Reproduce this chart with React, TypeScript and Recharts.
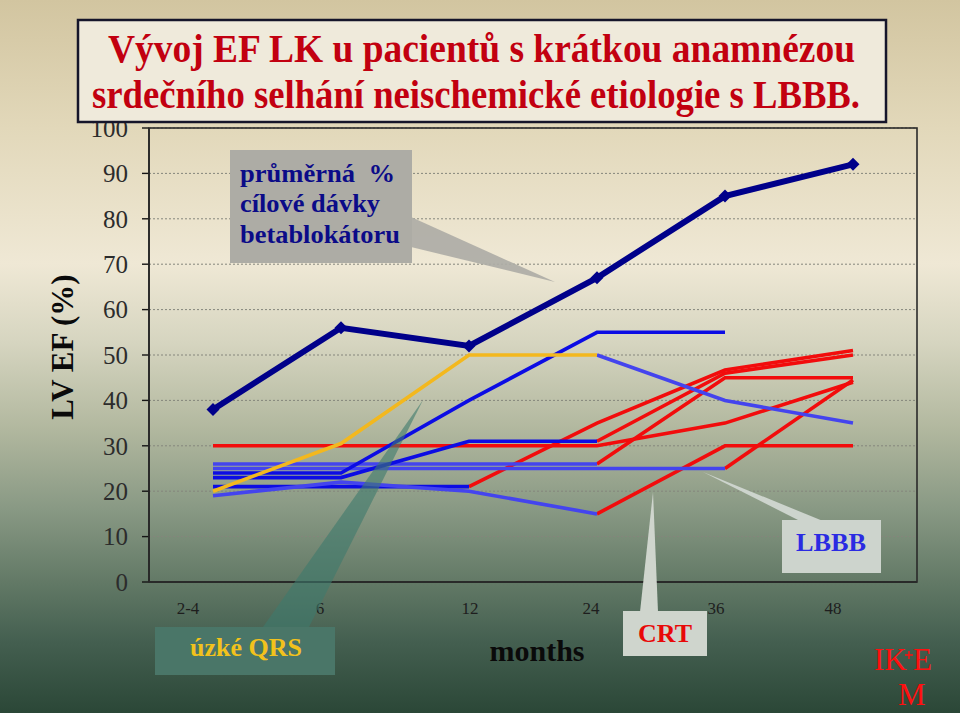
import React from 'react';
import { LineChart, Line, XAxis, YAxis, CartesianGrid } from 'recharts';

// ---------- data ----------
const MONTHS = ['2-4', '6', '12', '24', '36', '48'];
const Y_TICKS = [0, 10, 20, 30, 40, 50, 60, 70, 80, 90, 100];

// average % of target beta-blocker dose
const avgDose = [38, 56, 52, 67, 85, 92];

// individual patients' LV EF (%) segments (null = segment not present)
const p1Narrow = [20, 30.5, 50, 50, null, null];
const p1Lbbb = [null, null, null, 50, 40, 35];
const p2Lbbb = [24, 24, 40, 55, 55, null];
const p3Lbbb = [23, 23, 31, 31, null, null];
const p3Crt = [null, null, null, 31, 46, 50];
const p4Crt = [30, 30, 30, 30, 35, 44];
const p5Lbbb = [26, 26, 26, 26, null, null];
const p5Crt = [null, null, null, 26, 45, 45];
const p6Lbbb = [25, 25, 25, 25, 25, null];
const p6Crt = [null, null, null, null, 25, 44.5];
const p7Lbbb = [21, 21, 21, null, null, null];
const p7Crt = [null, null, 21, 35, 46.7, 51];
const p8Lbbb = [19, 22, 20, 15, null, null];
const p8Crt = [null, null, null, 15, 30, 30];

// ---------- style ----------
const SERIF = "'Liberation Serif', 'Times New Roman', serif";
const RED = '#f20c0c';
const BLUE = '#0c0ce4';
const LBLUE = '#4444ee';
const YELLOW = '#f3b81e';
const NAVY = '#00008a';
const TICK_DX = [-25, -21, 1, -6, -9, -20];

const SERIES = [
  { key: 'p4Crt', values: p4Crt, color: RED },
  { key: 'p3Crt', values: p3Crt, color: RED },
  { key: 'p5Crt', values: p5Crt, color: RED },
  { key: 'p6Crt', values: p6Crt, color: RED },
  { key: 'p7Crt', values: p7Crt, color: RED },
  { key: 'p8Crt', values: p8Crt, color: RED },
  { key: 'p5Lbbb', values: p5Lbbb, color: LBLUE },
  { key: 'p6Lbbb', values: p6Lbbb, color: LBLUE },
  { key: 'p2Lbbb', values: p2Lbbb, color: BLUE },
  { key: 'p3Lbbb', values: p3Lbbb, color: BLUE },
  { key: 'p7Lbbb', values: p7Lbbb, color: BLUE },
  { key: 'p8Lbbb', values: p8Lbbb, color: LBLUE },
  { key: 'p1Lbbb', values: p1Lbbb, color: LBLUE },
  { key: 'p1Narrow', values: p1Narrow, color: YELLOW },
];

const rows = MONTHS.map((m, i) => {
  const r: Record<string, any> = { month: m, avg: avgDose[i] };
  SERIES.forEach((s) => {
    r[s.key] = s.values[i];
  });
  return r;
});

const MonthTick = (props: any) => {
  const { x, y, payload } = props;
  const i = MONTHS.indexOf(payload.value);
  return (
    <text
      x={x + (TICK_DX[i] || 0)}
      y={y + 24}
      textAnchor="middle"
      fontSize={17}
      fill="#1e1e1e"
      fontFamily={SERIF}
    >
      {payload.value}
    </text>
  );
};

const Diamond = (props: any) => {
  const { cx, cy, index } = props;
  if (cx == null || cy == null) return <g key={`d${index}`} />;
  const s = 6.5;
  return (
    <polygon
      key={`d${index}`}
      points={`${cx},${cy - s} ${cx + s},${cy} ${cx},${cy + s} ${cx - s},${cy}`}
      fill={NAVY}
    />
  );
};

export default function App() {
  return (
    <div
      style={{
        position: 'absolute',
        left: 0,
        top: 0,
        width: 960,
        height: 713,
        overflow: 'hidden',
        background:
          'linear-gradient(to bottom, #d2c5a0 0%, #e2d8ba 18%, #efe8d5 37%, #d6d5c0 48%, #b2b89f 60%, #8a9a85 71%, #617865 82%, #445f50 90%, #2b4737 100%)',
      }}
    >
      <div style={{ position: 'absolute', left: 0, top: 0 }}>
        <LineChart
          width={960}
          height={713}
          data={rows}
          margin={{ top: 128, right: 43, bottom: 91, left: 0 }}
        >
          <CartesianGrid
            vertical={false}
            stroke="#85867c"
            strokeDasharray="2 2"
            strokeWidth={1}
          />
          <XAxis
            dataKey="month"
            height={40}
            padding={{ left: 64, right: 64 }}
            tickLine={false}
            axisLine={{ stroke: '#151515', strokeWidth: 1.6 }}
            tick={<MonthTick />}
            interval={0}
          />
          <YAxis
            width={149}
            domain={[0, 100]}
            ticks={Y_TICKS}
            interval={0}
            tickSize={7}
            tickMargin={14}
            axisLine={{ stroke: '#151515', strokeWidth: 1.6 }}
            tickLine={{ stroke: '#151515', strokeWidth: 1.4 }}
            tick={{ fontSize: 25, fill: '#2c2c2c', fontFamily: SERIF }}
          />
          {SERIES.map((s) => (
            <Line
              key={s.key}
              dataKey={s.key}
              type="linear"
              stroke={s.color}
              strokeWidth={3.6}
              dot={false}
              activeDot={false}
              isAnimationActive={false}
              connectNulls={false}
            />
          ))}
          <Line
            dataKey="avg"
            type="linear"
            stroke={NAVY}
            strokeWidth={6}
            dot={<Diamond />}
            activeDot={false}
            isAnimationActive={false}
          />
        </LineChart>
      </div>

      <svg
        width={960}
        height={713}
        style={{ position: 'absolute', left: 0, top: 0, pointerEvents: 'none' }}
      >
        {/* plot frame */}
        <rect x={149} y={128} width={768} height={454} fill="none" stroke="#2a2a2a" strokeWidth={1.6} />

        {/* title */}
        <rect x={78} y={20} width={808} height={102} fill="#efeadb" stroke="#15152a" strokeWidth={2.5} />
        <text x={108} y={62} fontSize={40} fontWeight="bold" fill="#c20010" fontFamily={SERIF} textLength={747} lengthAdjust="spacingAndGlyphs">
          Vývoj EF LK u pacientů s krátkou anamnézou
        </text>
        <text x={92} y={108} fontSize={40} fontWeight="bold" fill="#c20010" fontFamily={SERIF} textLength={768} lengthAdjust="spacingAndGlyphs">
          srdečního selhání neischemické etiologie s LBBB.
        </text>

        {/* beta-blocker callout */}
        <polygon points="411,217 411,247 555,282" fill="#aeada6" opacity={0.92} />
        <rect x={230} y={150} width={182} height={113} fill="#adaca5" />
        <text x={240} y={182} fontSize={26} fontWeight="bold" fill="#0b0b88" fontFamily={SERIF} xmlSpace="preserve" textLength={155} lengthAdjust="spacingAndGlyphs">
          průměrná  %
        </text>
        <text x={240} y={212} fontSize={26} fontWeight="bold" fill="#0b0b88" fontFamily={SERIF} textLength={140} lengthAdjust="spacingAndGlyphs">
          cílové dávky
        </text>
        <text x={240} y={243} fontSize={26} fontWeight="bold" fill="#0b0b88" fontFamily={SERIF} textLength={160} lengthAdjust="spacingAndGlyphs">
          betablokátoru
        </text>

        {/* narrow QRS callout */}
        <polygon points="263,627 309,627 423,400" fill="#3e7a6c" opacity={0.6} />
        <rect x={155} y={627} width={180} height={48} fill="#4a7668" />
        <text x={190} y={656} fontSize={25} fontWeight="bold" fill="#f2c21c" fontFamily={SERIF} textLength={112} lengthAdjust="spacingAndGlyphs">
          úzké QRS
        </text>

        {/* CRT callout */}
        <polygon points="640,612 658,612 653,492" fill="#cfd5cd" />
        <rect x={623} y={611} width={84} height={45} fill="#cfd5cd" />
        <text x={638} y={642} fontSize={26} fontWeight="bold" fill="#e80808" fontFamily={SERIF} textLength={54} lengthAdjust="spacingAndGlyphs">
          CRT
        </text>

        {/* LBBB callout */}
        <polygon points="800,521 823,521 703,472" fill="#cdd4cd" />
        <rect x={782} y={520} width={99} height={53} fill="#cdd4cd" />
        <text x={796} y={551} fontSize={26} fontWeight="bold" fill="#2b2be2" fontFamily={SERIF} textLength={70} lengthAdjust="spacingAndGlyphs">
          LBBB
        </text>

        {/* axis titles */}
        <text x={537} y={661} textAnchor="middle" fontSize={30} fontWeight="bold" fill="#0a0a0a" fontFamily={SERIF}>
          months
        </text>
        <text
          x={62}
          y={347}
          textAnchor="middle"
          dominantBaseline="central"
          fontSize={31}
          fontWeight="bold"
          fill="#0a0a0a"
          fontFamily={SERIF}
          transform="rotate(-90 62 347)"
        >
          LV EF (%)
        </text>

        {/* IKEM logo */}
        <text fontSize={31} fill="#ff1010" fontFamily={SERIF}>
          <tspan x={874} y={670}>IK</tspan>
          <tspan x={913} y={670}>E</tspan>
          <tspan x={898} y={705}>M</tspan>
        </text>
        <path d="M905 655 h8 M909 651 v8" stroke="#ff1010" strokeWidth={1.5} />
      </svg>
    </div>
  );
}
